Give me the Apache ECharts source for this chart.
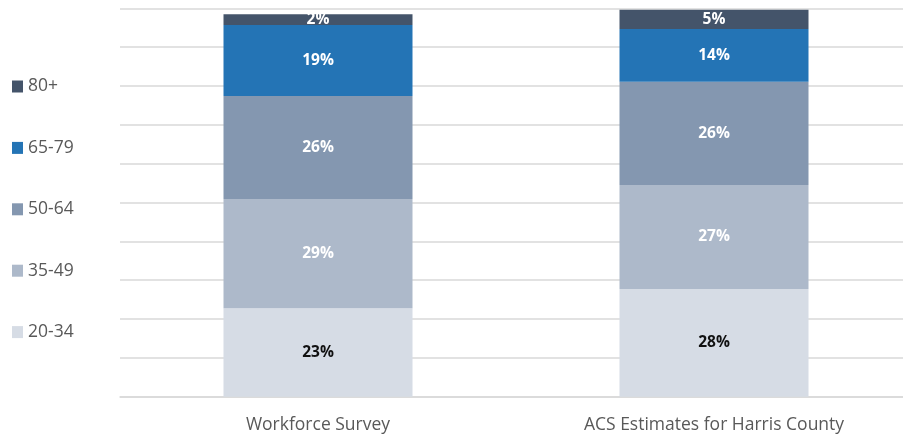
<!DOCTYPE html>
<html>
<head>
<meta charset="utf-8">
<script src="https://cdn.jsdelivr.net/npm/echarts@6/dist/echarts.min.js"></script>
<style>
  html, body { margin: 0; padding: 0; background: #fff; }
  #chart { width: 903px; height: 436px; }
</style>
</head>
<body>
<div id="chart"></div>
<script>
// 类别与数据（段高按图读取，标签按图上文字）
const categories = ['Workforce Survey', 'ACS Estimates for Harris County'];
const ageGroups = ['20-34', '35-49', '50-64', '65-79', '80+'];
const colors = ['#d6dce5', '#adb9ca', '#8497b0', '#2474b5', '#44546a'];
const labelColors = ['#111', '#fff', '#fff', '#fff', '#fff'];

const values = [
    [22.8, 27.7],   // 20-34
    [28.1, 26.8],   // 35-49
    [26.5, 26.6],   // 50-64
    [18.3, 13.6],   // 65-79
    [2.8, 4.9]      // 80+
];
const labels = [
    ['23%', '28%'],
    ['29%', '27%'],
    ['26%', '26%'],
    ['19%', '14%'],
    ['2%', '5%']
];

const chart = echarts.init(document.getElementById('chart'));

const series = ageGroups.map((name, i) => ({
    name: name,
    type: 'bar',
    stack: 'total',
    barWidth: 189,
    itemStyle: { color: colors[i] },
    data: values[i],
    label: {
        show: true,
        position: 'inside',
        color: labelColors[i],
        fontFamily: 'Open Sans',
        fontWeight: 'bold',
        fontSize: 15.5,
        formatter: p => labels[i][p.dataIndex]
    }
}));

chart.setOption({
    animation: false,
    // 网格右侧超出画布，和原图一致
    grid: { left: 120, width: 792, top: 8.3, bottom: 39.3, containLabel: false, outerBoundsMode: 'none' },
    legend: {
        orient: 'vertical',
        left: 12,
        top: 76.5,
        padding: 0,
        data: ageGroups.slice().reverse(),
        itemWidth: 11,
        itemHeight: 12,
        itemGap: 41.4,
        icon: 'rect',
        textStyle: { fontFamily: 'Open Sans', fontSize: 17.5, color: '#595959', lineHeight: 20 }
    },
    xAxis: {
        type: 'category',
        data: categories,
        axisLine: { show: true, lineStyle: { color: '#d9d9d9', width: 1.5 } },
        axisTick: { show: false },
        axisLabel: { fontFamily: 'Open Sans', fontSize: 17.5, color: '#595959', margin: 19 }
    },
    yAxis: {
        type: 'value',
        min: 0,
        max: 100,
        interval: 10,
        axisLabel: { show: false },
        axisLine: { show: false },
        axisTick: { show: false },
        splitLine: { lineStyle: { color: '#d9d9d9', width: 1.5 } }
    },
    series: series
});
</script>
</body>
</html>
